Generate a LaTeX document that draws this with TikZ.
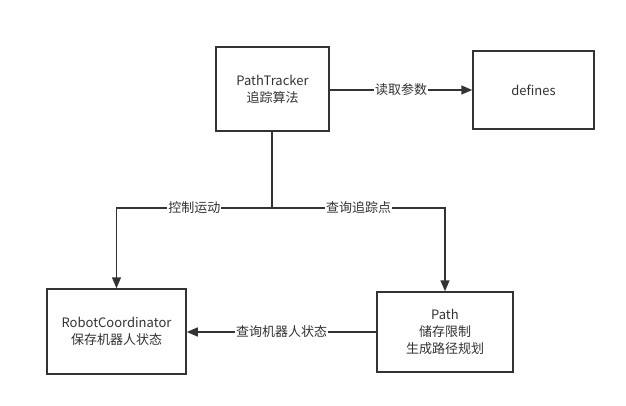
\documentclass[tikz,border=0pt]{standalone}
\usepackage{fontspec}
\setmainfont{Noto Sans CJK SC}
\usetikzlibrary{arrows.meta}
\definecolor{ln}{HTML}{333333}
\tikzset{
  box/.style={draw=ln, line width=1.5pt, fill=white, align=center, inner sep=0pt, font=\fontsize{13}{17}\selectfont, text=ln},
  conn/.style={draw=ln, line width=1.5pt, -{Triangle[length=11pt,width=9pt]}},
  plain/.style={draw=ln, line width=1.5pt},
  lbl/.style={fill=white, inner sep=1pt, font=\fontsize{13}{15}\selectfont, text=ln}
}
\begin{document}
\begin{tikzpicture}[x=1pt,y=-1pt]
\useasboundingbox (0,0) rectangle (626,406);
\node[box, minimum width=113pt, minimum height=84pt] (pt) at (272.5,89) {PathTracker\\追踪算法};
\node[box, minimum width=121pt, minimum height=78pt] (def) at (533.5,90) {defines};
\node[box, minimum width=139pt, minimum height=85pt] (rc) at (116.5,331.5) {RobotCoordinator\\保存机器人状态};
\node[box, minimum width=136pt, minimum height=80pt] (path) at (445,332) {Path\\储存限制\\生成路径规划};
\coordinate (j) at (272,208);
\draw[conn] (pt.east |- 0,90) -- node[lbl] {读取参数} (def.west |- 0,90);
\draw[plain] (pt.south -| j) -- (j);
\draw[conn] (j) -- node[lbl, pos=0.5] {控制运动} (rc.north |- j) -- (rc.north);
\draw[conn] (j) -- node[lbl, pos=0.5] {查询追踪点} (path.north |- j) -- (path.north);
\draw[conn] (path.west |- 0,332) -- node[lbl] {查询机器人状态} (rc.east |- 0,332);
\end{tikzpicture}
\end{document}
